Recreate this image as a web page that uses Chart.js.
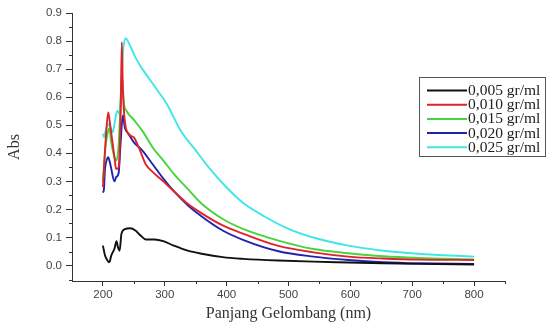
<!DOCTYPE html>
<html lang="en">
<head>
  <meta charset="UTF-8" />
  <script src="https://cdn.jsdelivr.net/npm/chart.js"></script>
  <title>Abs vs Panjang Gelombang</title>
  <style>
    html, body { margin: 0; padding: 0; background: #fff; }
    #wrap { width: 547px; height: 323px; }
  </style>
</head>
<body>
  <div id="wrap"><canvas id="absChart"></canvas></div>

  <script>
    // series labels + colours
    const labels = ['0,005 gr/ml', '0,010 gr/ml', '0,015 gr/ml', '0,020 gr/ml', '0,025 gr/ml'];
    const colors = ['#111111', '#e0222a', '#45d43c', '#2222b0', '#3ee6e6'];

    // wavelength (nm) / absorbance
    const wl005 = [200, 203.4, 207.3, 209.5, 211, 213.5, 218.6, 222, 224.3, 227, 229.9, 235.6, 244, 252.5, 260.9, 269.4, 283.5, 297.6, 314.6, 337.1, 359.7, 393.6, 427.4, 483.9, 540.3, 596.7, 653.2, 709.6, 800];
    const abs005 = [0.071, 0.036, 0.018, 0.012, 0.015, 0.036, 0.06, 0.087, 0.065, 0.053, 0.113, 0.13, 0.133, 0.125, 0.107, 0.093, 0.093, 0.087, 0.071, 0.053, 0.042, 0.03, 0.024, 0.018, 0.014, 0.011, 0.008, 0.006, 0.004];

    const wl010 = [200, 204.5, 208.5, 210.5, 213, 218.6, 221.4, 225.4, 228.8, 230.5, 232, 234, 238.4, 249.7, 258.1, 269.4, 280.7, 297.6, 314.6, 337.1, 359.7, 393.6, 427.4, 483.9, 540.3, 596.7, 653.2, 709.6, 800];
    const abs010 = [0.28, 0.45, 0.546, 0.52, 0.48, 0.386, 0.344, 0.35, 0.55, 0.796, 0.65, 0.55, 0.48, 0.457, 0.42, 0.36, 0.333, 0.30, 0.265, 0.22, 0.186, 0.143, 0.113, 0.07, 0.047, 0.032, 0.025, 0.021, 0.02];

    const wl015 = [200, 204.5, 208.5, 210.5, 213, 218.6, 221.4, 225.4, 228.8, 230.5, 234, 238.4, 249.7, 263.8, 280.7, 297.6, 314.6, 337.1, 359.7, 393.6, 427.4, 483.9, 540.3, 596.7, 653.2, 709.6, 800];
    const abs015 = [0.30, 0.43, 0.48, 0.49, 0.445, 0.386, 0.374, 0.43, 0.60, 0.677, 0.576, 0.55, 0.52, 0.48, 0.42, 0.374, 0.327, 0.273, 0.22, 0.166, 0.13, 0.089, 0.059, 0.044, 0.033, 0.027, 0.022];

    const wl020 = [200, 201.5, 203.4, 206, 208.5, 211, 213, 218.6, 221.4, 225.4, 228.8, 232.2, 235.6, 241.2, 249.7, 263.8, 280.7, 297.6, 314.6, 337.1, 359.7, 393.6, 427.4, 483.9, 540.3, 596.7, 653.2, 709.6, 800];
    const abs020 = [0.26, 0.27, 0.345, 0.375, 0.386, 0.37, 0.35, 0.30, 0.315, 0.33, 0.445, 0.535, 0.49, 0.47, 0.44, 0.41, 0.36, 0.31, 0.265, 0.215, 0.175, 0.125, 0.091, 0.051, 0.032, 0.02, 0.012, 0.008, 0.006];

    const wl025 = [200, 201.7, 204.5, 208.5, 213, 215.8, 218.6, 223.1, 227.1, 229.9, 232.7, 236.7, 241.2, 252.5, 263.8, 275, 286.3, 303.3, 325.8, 348.4, 371, 399.2, 427.4, 461.3, 500.8, 540.3, 596.7, 653.2, 709.6, 800];
    const abs025 = [0.47, 0.457, 0.48, 0.505, 0.487, 0.475, 0.505, 0.552, 0.54, 0.65, 0.766, 0.81, 0.796, 0.742, 0.70, 0.665, 0.63, 0.576, 0.48, 0.415, 0.35, 0.28, 0.222, 0.175, 0.13, 0.10, 0.071, 0.053, 0.042, 0.032];

    // axis ticks
    const xTicks = [200, 300, 400, 500, 600, 700, 800];
    const xMinor = [250, 350, 450, 550, 650, 750, 850];
    const yTicks = [0, 0.1, 0.2, 0.3, 0.4, 0.5, 0.6, 0.7, 0.8, 0.9];
    const yMinor = [-0.05, 0.05, 0.15, 0.25, 0.35, 0.45, 0.55, 0.65, 0.75, 0.85];

    const wls = [wl005, wl010, wl015, wl020, wl025];
    const absVals = [abs005, abs010, abs015, abs020, abs025];

    const datasets = labels.map((lab, i) => ({
      label: lab,
      data: wls[i].map((w, j) => ({ x: w, y: absVals[i][j] })),
      borderColor: colors[i],
      backgroundColor: colors[i],
      borderWidth: 1.9,
      pointRadius: 0,
      cubicInterpolationMode: 'monotone',
      fill: false
    }));

    // short minor ticks on both axes
    const minorTicks = {
      id: 'minorTicks',
      afterDraw(chart) {
        const ctx = chart.ctx;
        const xs = chart.scales.x, ys = chart.scales.y;
        ctx.save();
        ctx.strokeStyle = '#333';
        ctx.lineWidth = 1;
        ctx.beginPath();
        xMinor.forEach(v => {
          const px = Math.round(xs.getPixelForValue(v)) + 0.5;
          ctx.moveTo(px, xs.top);
          ctx.lineTo(px, xs.top + 3);
        });
        yMinor.forEach(v => {
          const py = Math.round(ys.getPixelForValue(v)) + 0.5;
          ctx.moveTo(ys.right, py);
          ctx.lineTo(ys.right - 3, py);
        });
        ctx.stroke();
        ctx.restore();
      }
    };

    // boxed legend inside the plot, top right
    const boxLegend = {
      id: 'boxLegend',
      afterDraw(chart) {
        const ctx = chart.ctx;
        ctx.save();
        ctx.strokeStyle = '#555';
        ctx.lineWidth = 1;
        ctx.strokeRect(419.5, 77.5, 126, 79);
        ctx.font = '15.5px "Liberation Serif", "Times New Roman", serif';
        ctx.textBaseline = 'middle';
        ctx.fillStyle = '#222';
        chart.data.datasets.forEach((ds, i) => {
          const y = 90.5 + i * 14.2;
          ctx.strokeStyle = ds.borderColor;
          ctx.lineWidth = 2;
          ctx.beginPath();
          ctx.moveTo(427, y);
          ctx.lineTo(467, y);
          ctx.stroke();
          ctx.fillText(ds.label, 468, y + 0.5);
        });
        ctx.restore();
      }
    };

    const tickFont = { family: '"Liberation Sans", Arial, sans-serif', size: 11.5 };
    const titleFont = { family: '"Liberation Serif", "Times New Roman", serif', size: 16 };

    new Chart(document.getElementById('absChart'), {
      type: 'line',
      data: { datasets },
      options: {
        responsive: true,
        maintainAspectRatio: false,
        animation: false,
        layout: { padding: { top: 13, right: 42, left: 0, bottom: 0 } },
        plugins: { legend: { display: false }, tooltip: { enabled: false } },
        scales: {
          x: {
            type: 'linear',
            min: 150,
            max: 850,
            afterBuildTicks: s => { s.ticks = xTicks.map(v => ({ value: v })); },
            afterFit: s => { s.height = 42; },
            ticks: { font: tickFont, color: '#444', padding: 2, maxRotation: 0 },
            grid: { drawOnChartArea: false, tickLength: 5, color: '#333' },
            border: { color: '#333', width: 1 },
            title: {
              display: true,
              text: 'Panjang Gelombang (nm)',
              font: titleFont,
              color: '#333',
              padding: { top: 0, bottom: 0 }
            }
          },
          y: {
            min: -0.055,
            max: 0.9,
            afterBuildTicks: s => { s.ticks = yTicks.map(v => ({ value: v })); },
            afterFit: s => { s.width = 72; },
            ticks: {
              font: tickFont,
              color: '#444',
              padding: 4,
              callback: v => v.toFixed(1)
            },
            grid: { drawOnChartArea: false, tickLength: 6, color: '#333' },
            border: { color: '#333', width: 1 },
            title: {
              display: true,
              text: 'Abs',
              font: titleFont,
              color: '#333',
              padding: { top: 5, bottom: 0 }
            }
          }
        }
      },
      plugins: [minorTicks, boxLegend]
    });
  </script>
</body>
</html>
